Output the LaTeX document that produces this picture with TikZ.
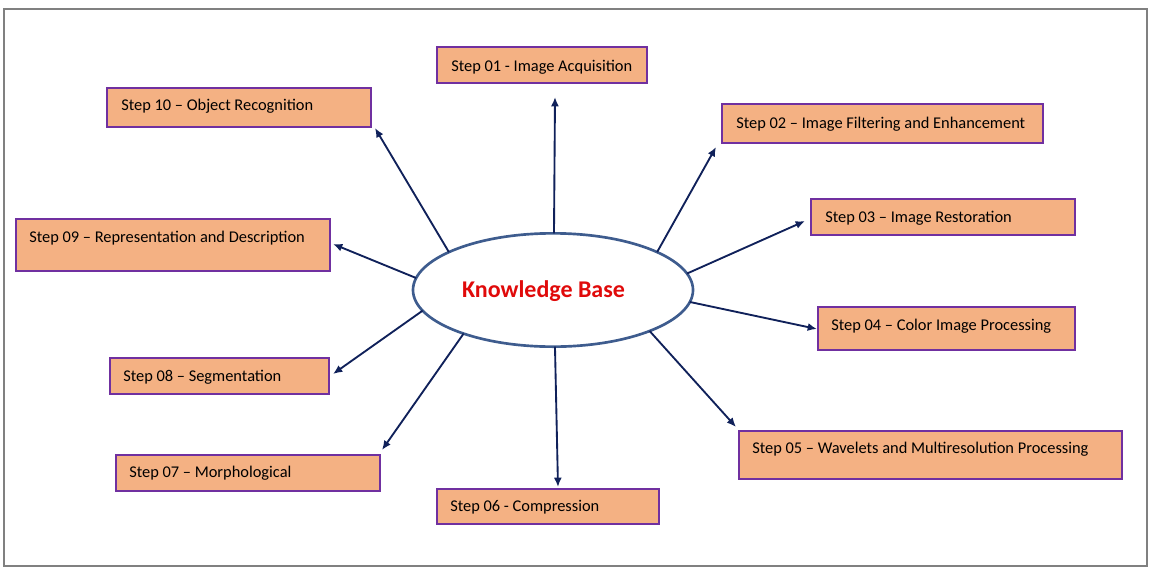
\documentclass[tikz,border=0pt]{standalone}
\usepackage{fontspec}
\setmainfont{Carlito}
\usetikzlibrary{arrows.meta,shapes.geometric}
\definecolor{boxfill}{HTML}{F4B183}
\definecolor{boxline}{HTML}{7030A0}
\definecolor{arrowc}{HTML}{10215A}
\definecolor{ellc}{HTML}{3E5C8E}
\definecolor{framec}{HTML}{808080}
\definecolor{kbred}{HTML}{E00A0A}
\begin{document}
\begin{tikzpicture}[x=0.75pt,y=-0.75pt,
  stepbox/.style={draw=boxline,fill=boxfill,line width=2pt,anchor=north west,inner sep=0pt,outer sep=0pt},
  steptext/.style={anchor=west,inner sep=0pt,font=\fontsize{12.3}{14}\selectfont,text=black},
  conn/.style={draw=arrowc,line width=1.4pt,-{Latex[length=7pt,width=6pt]}}]
\useasboundingbox (0,0) rectangle (1162,578);
\draw[framec,line width=1.2pt] (4,9) rectangle (1147,566);
% central ellipse
\node[ellipse,draw=ellc,line width=2pt,minimum width=210pt,minimum height=85pt,inner sep=0pt,outer sep=0pt] (kb) at (553,290) {};
\node[font=\fontsize{18}{21}\selectfont\bfseries,text=kbred] (kbt) at (543.5,291) {Knowledge Base};
% boxes
\node[stepbox,minimum width=157.5pt,minimum height=27pt] (s01) at (437,47) {};
\node[steptext] (t01) at (451,67) {Step 01 - Image Acquisition};
\node[stepbox,minimum width=240.75pt,minimum height=29.25pt] (s02) at (722,104) {};
\node[steptext] (t02) at (736,124) {Step 02 – Image Filtering and Enhancement};
\node[stepbox,minimum width=198pt,minimum height=27pt] (s03) at (811,199) {};
\node[steptext] (t03) at (825,218) {Step 03 – Image Restoration};
\node[stepbox,minimum width=192.75pt,minimum height=32.25pt] (s04) at (818,307) {};
\node[steptext] (t04) at (831,326) {Step 04 – Color Image Processing};
\node[stepbox,minimum width=287.25pt,minimum height=36pt] (s05) at (739,431) {};
\node[steptext] (t05) at (752,449) {Step 05 – Wavelets and Multiresolution Processing};
\node[stepbox,minimum width=166.5pt,minimum height=26.25pt] (s06) at (437,489) {};
\node[steptext] (t06) at (450,507) {Step 06 - Compression};
\node[stepbox,minimum width=198pt,minimum height=27pt] (s07) at (116,455) {};
\node[steptext] (t07) at (129,473) {Step 07 – Morphological};
\node[stepbox,minimum width=164.25pt,minimum height=27pt] (s08) at (110,358) {};
\node[steptext] (t08) at (123,377) {Step 08 – Segmentation};
\node[stepbox,minimum width=235.5pt,minimum height=39pt] (s09) at (16,219) {};
\node[steptext] (t09) at (29,238) {Step 09 – Representation and Description};
\node[stepbox,minimum width=198pt,minimum height=29.25pt] (s10) at (107,88) {};
\node[steptext] (t10) at (121,106) {Step 10 – Object Recognition};
% arrow tips
\coordinate (e01) at (555,97);
\coordinate (e02) at (716,147);
\coordinate (e03) at (805,221);
\coordinate (e04) at (817,329);
\coordinate (e05) at (736,427);
\coordinate (e06) at (558,487);
\coordinate (e07) at (382,450);
\coordinate (e08) at (333,374);
\coordinate (e09) at (333,244);
\coordinate (e10) at (375,128);
% connectors
\draw[conn] (kb.89.5) -- (e01);
\draw[conn] (kb.20) -- (e02);
\draw[conn] (kb.7) -- (e03);
\draw[conn] (kb.-5) -- (e04);
\draw[conn] (kb.-23) -- (e05);
\draw[conn] (kb.-88) -- (e06);
\draw[conn] (kb.206) -- (e07);
\draw[conn] (kb.189) -- (e08);
\draw[conn] (kb.175) -- (e09);
\draw[conn] (kb.160) -- (e10);
\end{tikzpicture}
\end{document}
